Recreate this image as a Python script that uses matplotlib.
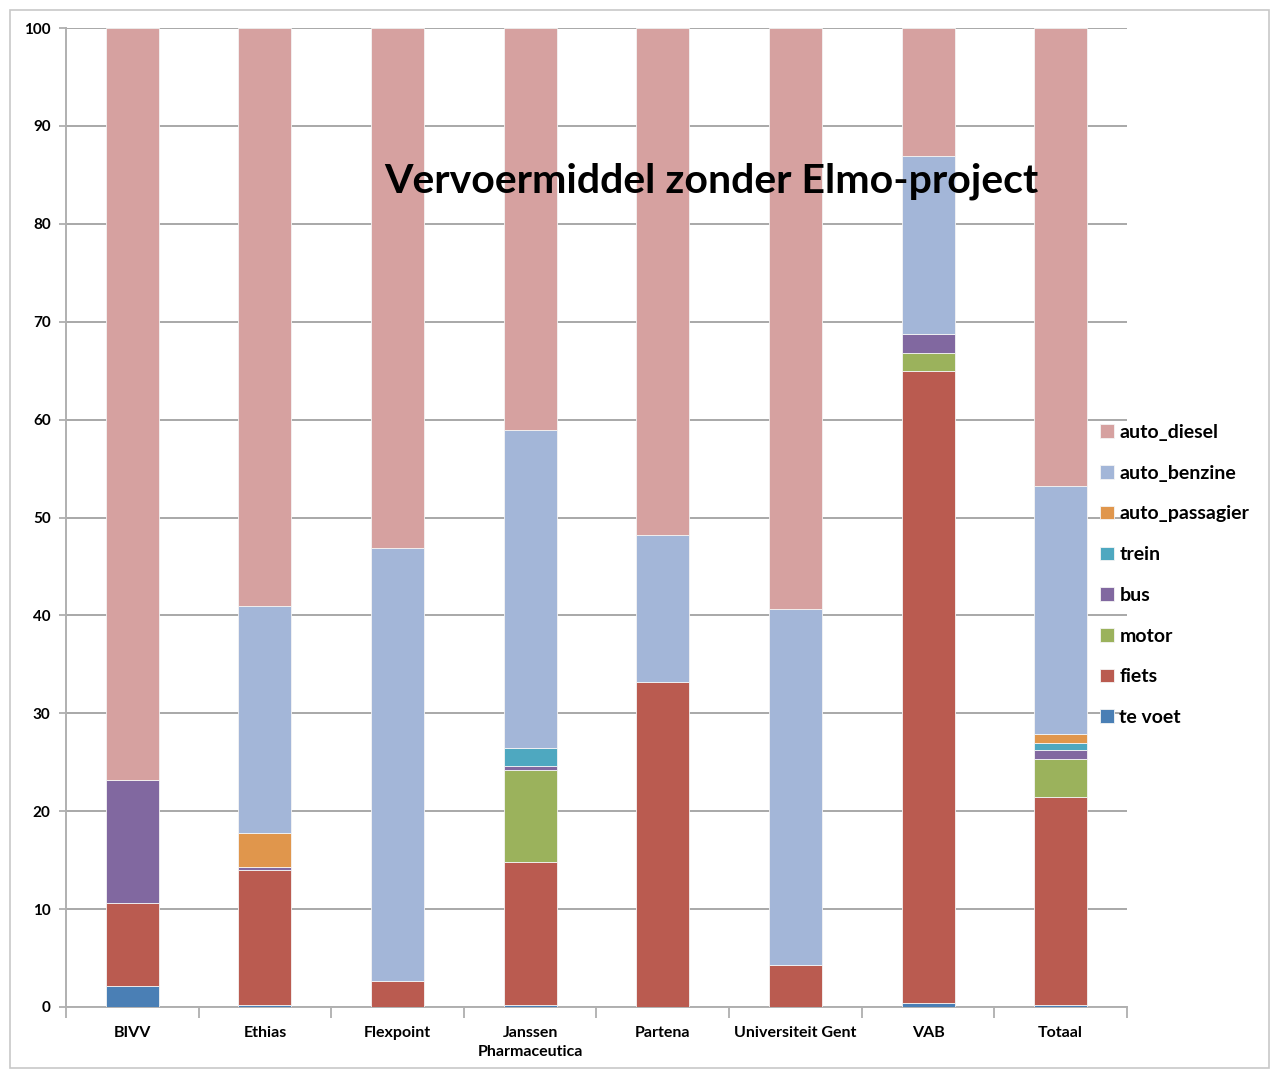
import matplotlib.pyplot as plt
import matplotlib.patches as mpatches
import numpy as np

plt.rcParams['font.family'] = ['Lato', 'DejaVu Sans']

bedrijven = ['BIVV', 'Ethias', 'Flexpoint', 'Janssen\nPharmaceutica', 'Partena',
             'Universiteit Gent', 'VAB', 'Totaal']

# percentages per vervoermiddel (onderaan -> bovenaan gestapeld)
te_voet = [2.1, 0.2, 0.0, 0.2, 0.0, 0.0, 0.4, 0.2]
fiets = [8.5, 13.8, 2.65, 14.6, 33.2, 4.3, 64.6, 21.3]
motor = [0.0, 0.0, 0.0, 9.4, 0.0, 0.0, 1.8, 3.8]
bus = [12.6, 0.3, 0.0, 0.4, 0.0, 0.0, 1.9, 0.9]
trein = [0.0, 0.0, 0.0, 1.9, 0.0, 0.0, 0.0, 0.8]
auto_passagier = [0.0, 3.5, 0.0, 0.0, 0.0, 0.0, 0.0, 0.9]
auto_benzine = [0.0, 23.2, 44.25, 32.4, 15.0, 36.4, 18.2, 25.3]
auto_diesel = [76.8, 59.0, 53.1, 41.1, 51.8, 59.3, 13.1, 46.8]

reeksen = [
    ('te voet', te_voet, '#4A7FB5'),
    ('fiets', fiets, '#BA5B50'),
    ('motor', motor, '#9BB25C'),
    ('bus', bus, '#8168A0'),
    ('trein', trein, '#4EA8C0'),
    ('auto_passagier', auto_passagier, '#E0964C'),
    ('auto_benzine', auto_benzine, '#A3B6D8'),
    ('auto_diesel', auto_diesel, '#D6A1A0'),
]

fig = plt.figure(figsize=(12.73, 10.70), dpi=100)
ax = fig.add_axes([0.0518, 0.0589, 0.8335, 0.9149])

x = np.arange(len(bedrijven))
onder = np.zeros(len(bedrijven))
handles = []
for naam, waarden, kleur in reeksen:
    b = ax.bar(x, waarden, 0.4, bottom=onder, color=kleur, edgecolor='#f4f4f4',
               linewidth=0.6, label=naam, zorder=3)
    onder += np.array(waarden)
    handles.append(b)

ax.set_xlim(-0.5, len(bedrijven) - 0.5)
ax.set_ylim(0, 100)
ax.set_yticks(np.arange(0, 101, 10))
ax.yaxis.grid(True, color='#a8a8a8', linewidth=1.4, zorder=0)

ax.set_xticks(np.arange(-0.5, len(bedrijven), 1.0))
ax.set_xticklabels([])
ax.set_xticks(x, minor=True)
ax.set_xticklabels(bedrijven, minor=True, fontsize=11.5, fontweight='bold',
                   linespacing=1.45)
ax.tick_params(axis='x', which='major', length=8, color='#a8a8a8', width=1.2)
ax.tick_params(axis='x', which='minor', length=0, pad=14)
ax.tick_params(axis='y', length=5, color='#a8a8a8', width=1.2,
               labelsize=11, pad=6)
for lbl in ax.get_yticklabels():
    lbl.set_fontweight('bold')

for kant in ['top', 'right']:
    ax.spines[kant].set_visible(False)
for kant in ['left', 'bottom']:
    ax.spines[kant].set_color('#b0b0b0')
    ax.spines[kant].set_linewidth(1.4)

fig.text(0.559, 0.831, 'Vervoermiddel zonder Elmo-project', ha='center',
         va='center', fontsize=29.5, fontweight='bold')

fig.legend(handles[::-1], [r[0] for r in reeksen][::-1], loc='upper left',
           bbox_to_anchor=(0.858, 0.611), frameon=False,
           prop={'size': 14, 'weight': 'bold'},
           handlelength=0.7, handleheight=0.7, handletextpad=0.3,
           labelspacing=1.22, borderaxespad=0)

fig.patches.append(mpatches.Rectangle((0.008, 0.002), 0.989, 0.989,
                                      transform=fig.transFigure, fill=False,
                                      edgecolor='#c8c8c8', linewidth=1.2))

fig.savefig('out.png', dpi=100)
